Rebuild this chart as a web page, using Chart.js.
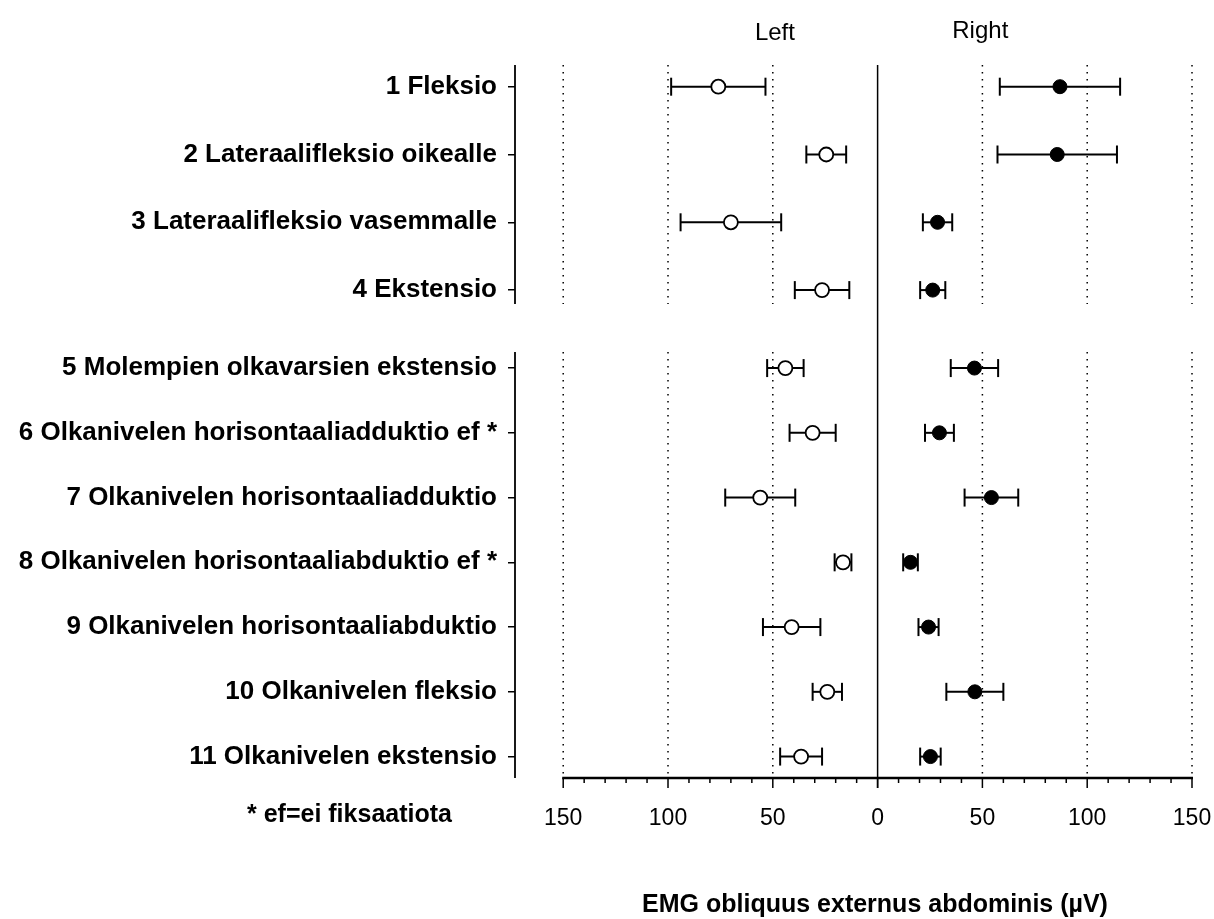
<!DOCTYPE html>
<html>
<head>
<meta charset="utf-8">
<script src="https://cdn.jsdelivr.net/npm/chart.js@4.4.1/dist/chart.umd.min.js"></script>
<style>
  body { margin: 0; background: #fff; }
  #wrap { width: 1214px; height: 919px; }
</style>
</head>
<body>
<div id="wrap"><canvas id="emgChart" width="1214" height="919"></canvas></div>
<script>
// liikkeet (y-akseli)
const categories = [
    "1 Fleksio",
    "2 Lateraalifleksio oikealle",
    "3 Lateraalifleksio vasemmalle",
    "4 Ekstensio",
    "5 Molempien olkavarsien ekstensio",
    "6 Olkanivelen horisontaaliadduktio ef *",
    "7 Olkanivelen horisontaaliadduktio",
    "8 Olkanivelen horisontaaliabduktio ef *",
    "9 Olkanivelen horisontaaliabduktio",
    "10 Olkanivelen fleksio",
    "11 Olkanivelen ekstensio"
];

// vasen puoli (avoin ympyra) ja oikea puoli (musta ympyra), keskiarvo ja hajonta, uV
const leftMean  = [76, 24.5, 70, 26.5, 44, 31, 56, 16.5, 41, 24, 36.5];
const leftSd    = [22.5, 9.5, 24, 13, 8.7, 11, 16.7, 4, 13.7, 7, 10];
const rightMean = [87, 85.7, 28.6, 26.3, 46.2, 29.5, 54.3, 15.7, 24.3, 46.4, 25.2];
const rightSd   = [28.7, 28.5, 7, 6, 11.3, 6.9, 12.8, 3.5, 4.8, 13.6, 4.9];

const xTicks = [-150, -100, -50, 0, 50, 100, 150];
const gridValues = [-150, -100, -50, 50, 100, 150];

const numFont = '"Liberation Sans Narrow", "Arial Narrow", "Liberation Sans", Arial, sans-serif';

// rivit: 1-4 ylempi ryhma, 5-11 alempi ryhma
function rowY(i) {
    return i < 4 ? i : 4.15 + (i - 4) * 0.955;
}

function points(means, sign) {
    return means.map(function (m, i) { return { x: sign * m, y: rowY(i) }; });
}

function line(ctx, x1, y1, x2, y2) {
    ctx.beginPath();
    ctx.moveTo(x1, y1);
    ctx.lineTo(x2, y2);
    ctx.stroke();
}

const panelPlugin = {
    id: 'panelPlugin',
    beforeDatasetsDraw: function (chart) {
        var ctx = chart.ctx, xs = chart.scales.x, ys = chart.scales.y, a = chart.chartArea;
        var topEnd = ys.getPixelForValue(rowY(3)) + 14;
        var botStart = ys.getPixelForValue(rowY(4)) - 16;
        var panels = [[a.top, topEnd], [botStart, a.bottom]];
        ctx.save();
        ctx.strokeStyle = '#000';

        // pisteviivat
        ctx.lineWidth = 1.5;
        ctx.setLineDash([1.5, 5.5]);
        gridValues.forEach(function (v) {
            var px = xs.getPixelForValue(v);
            panels.forEach(function (p) { line(ctx, px, p[0], px, p[1]); });
        });
        ctx.setLineDash([]);

        // vasen akseli kahdessa osassa
        ctx.lineWidth = 1.8;
        panels.forEach(function (p) { line(ctx, a.left, p[0], a.left, p[1]); });

        // nollaviiva
        var x0 = xs.getPixelForValue(0);
        ctx.lineWidth = 1.5;
        line(ctx, x0, a.top, x0, a.bottom + 10);

        // x-akseli ja merkit
        ctx.lineWidth = 2.5;
        line(ctx, xs.getPixelForValue(-150) - 1, a.bottom, xs.getPixelForValue(150) + 1, a.bottom);
        ctx.lineWidth = 1.5;
        for (var v = -150; v <= 150; v += 10) {
            var px = xs.getPixelForValue(v);
            line(ctx, px, a.bottom, px, a.bottom + (v % 50 === 0 ? 10 : 5));
        }

        // hajontapalkit
        ctx.lineWidth = 2;
        chart.data.datasets.forEach(function (ds, di) {
            var meta = chart.getDatasetMeta(di);
            meta.data.forEach(function (pt, i) {
                var lo = xs.getPixelForValue(ds.data[i].x - ds.errors[i]);
                var hi = xs.getPixelForValue(ds.data[i].x + ds.errors[i]);
                line(ctx, lo, pt.y, hi, pt.y);
                line(ctx, lo, pt.y - 9, lo, pt.y + 9);
                line(ctx, hi, pt.y - 9, hi, pt.y + 9);
            });
        });
        ctx.restore();
    },
    afterDraw: function (chart) {
        var ctx = chart.ctx, xs = chart.scales.x, a = chart.chartArea;
        ctx.save();
        ctx.fillStyle = '#000';
        ctx.textBaseline = 'middle';
        ctx.textAlign = 'center';
        ctx.font = '24px ' + numFont;
        ctx.fillText('Left', xs.getPixelForValue(-49), a.top - 32);
        ctx.fillText('Right', xs.getPixelForValue(49), a.top - 34);

        ctx.font = 'bold 25px "Liberation Sans", Arial, sans-serif';
        ctx.textAlign = 'left';
        ctx.fillText('* ef=ei fiksaatiota', 247, 815);
        ctx.textAlign = 'center';
        ctx.fillText('EMG obliquus externus abdominis (\u00b5V)', 875, 905);
        ctx.restore();
    }
};

var canvas = document.getElementById('emgChart').getContext('2d');
window.chart = new Chart(canvas, {
    type: 'scatter',
    data: {
        datasets: [
            {
                label: 'Left',
                data: points(leftMean, -1),
                errors: leftSd,
                pointRadius: 7,
                pointBackgroundColor: '#fff',
                pointBorderColor: '#000',
                pointBorderWidth: 1.8
            },
            {
                label: 'Right',
                data: points(rightMean, 1),
                errors: rightSd,
                pointRadius: 7,
                pointBackgroundColor: '#000',
                pointBorderColor: '#000',
                pointBorderWidth: 1
            }
        ]
    },
    options: {
        responsive: false,
        animation: false,
        layout: { padding: { top: 65, right: 22, left: 0, bottom: 0 } },
        plugins: { legend: { display: false }, tooltip: { enabled: false } },
        scales: {
            x: {
                type: 'linear',
                min: -173,
                max: 150,
                afterBuildTicks: function (s) { s.ticks = xTicks.map(function (v) { return { value: v }; }); },
                afterFit: function (s) { s.height = 141; s.paddingLeft = 0; s.paddingRight = 0; },
                grid: { display: false, drawTicks: false },
                border: { display: false },
                ticks: {
                    padding: 27,
                    color: '#000',
                    maxRotation: 0,
                    font: { family: numFont, size: 23 },
                    callback: function (v) { return Math.abs(v); }
                }
            },
            y: {
                type: 'linear',
                reverse: true,
                min: -0.32,
                max: 10.196,
                afterBuildTicks: function (s) { s.ticks = categories.map(function (c, i) { return { value: rowY(i) }; }); },
                afterFit: function (s) { s.width = 515; },
                grid: { drawOnChartArea: false, color: '#000', lineWidth: 1.5, tickLength: 7 },
                border: { display: false },
                ticks: {
                    padding: 11,
                    color: '#000',
                    font: { family: '"Liberation Sans", Arial, sans-serif', size: 26, weight: 'bold' },
                    callback: function (v, i) { return categories[i]; }
                }
            }
        }
    },
    plugins: [panelPlugin]
});
</script>
</body>
</html>
